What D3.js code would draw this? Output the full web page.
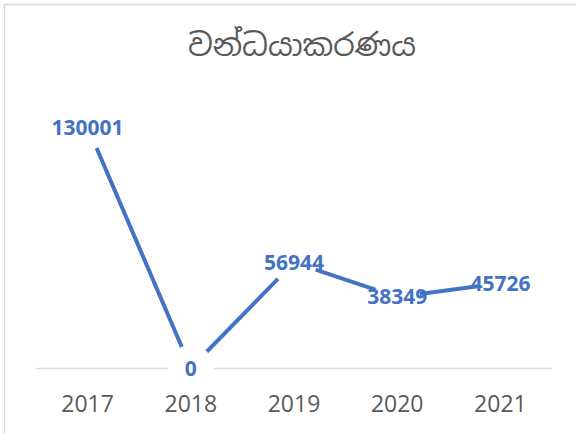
<!DOCTYPE html>
<html>
<head>
<meta charset="utf-8" />
<title>වන්ධයාකරණය</title>
<style>
  html, body { margin: 0; padding: 0; background: #fff; }
  svg { display: block; }
</style>
</head>
<body>
<div id="chart"></div>
<script src="https://cdn.jsdelivr.net/npm/d3@7"></script>
<script>
// values
var chartTitle = "වන්ධයාකරණය";
var years = ["2017", "2018", "2019", "2020", "2021"];
var values = [130001, 0, 56944, 38349, 45726];
var yMax = 140000;

var width = 576, height = 434;
var plot = { left: 36, right: 552, top: 108.5, bottom: 368 };
var blue = "#4472C4";

var svg = d3.select("#chart").append("svg")
    .attr("width", width)
    .attr("height", height);

// chart frame (runs off the right and bottom edge)
svg.append("rect")
    .attr("x", 4.5)
    .attr("y", 4.5)
    .attr("width", 620)
    .attr("height", 480)
    .attr("fill", "#fff")
    .attr("stroke", "#d9d9d9")
    .attr("stroke-width", 1.5);

svg.append("text")
    .attr("x", 302)
    .attr("y", 56)
    .attr("text-anchor", "middle")
    .attr("fill", "#595959")
    .style("font-family", "'Iskoola Pota','Noto Sans Sinhala','Noto Serif Sinhala','Noto Sans',sans-serif")
    .style("font-size", "30.5px")
    .text(chartTitle);

var x = d3.scaleBand()
    .domain(years)
    .range([plot.left, plot.right]);

var y = d3.scaleLinear()
    .domain([0, yMax])
    .range([plot.bottom, plot.top]);

var cx = function (d) { return x(d) + x.bandwidth() / 2; };

var data = years.map(function (d, i) { return { year: d, value: values[i] }; });

// category axis on the zero line
var axis = svg.append("g")
    .attr("transform", "translate(0," + plot.bottom + ")")
    .call(d3.axisBottom(x).tickSize(0).tickSizeOuter(0).tickPadding(28));

axis.select(".domain")
    .attr("stroke", "#d9d9d9")
    .attr("stroke-width", 1.5);

axis.selectAll("text")
    .attr("fill", "#595959")
    .style("font-family", "'Open Sans', Calibri, sans-serif")
    .style("font-size", "23px");

var line = d3.line()
    .x(function (d) { return cx(d.year); })
    .y(function (d) { return y(d.value); });

svg.append("path")
    .datum(data)
    .attr("d", line)
    .attr("fill", "none")
    .attr("stroke", blue)
    .attr("stroke-width", 4);

// white markers leave the gap round each label
svg.append("g")
    .selectAll("circle")
    .data(data)
    .enter().append("circle")
    .attr("cx", function (d) { return cx(d.year); })
    .attr("cy", function (d) { return y(d.value); })
    .attr("r", 23)
    .attr("fill", "#fff");

svg.append("g")
    .selectAll("text")
    .data(data)
    .enter().append("text")
    .attr("x", function (d) { return cx(d.year); })
    .attr("y", function (d) { return y(d.value); })
    .attr("dy", "0.36em")
    .attr("text-anchor", "middle")
    .attr("fill", blue)
    .style("font-family", "'Open Sans', Calibri, sans-serif")
    .style("font-weight", "bold")
    .style("font-size", "21px")
    .text(function (d) { return d.value; });
</script>
</body>
</html>
